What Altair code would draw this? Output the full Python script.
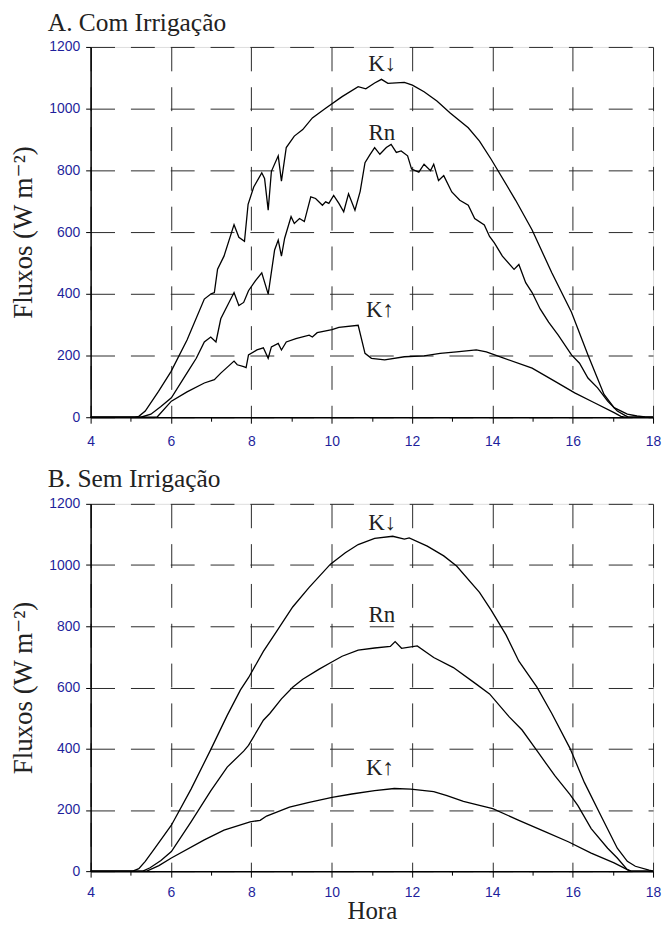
import altair as alt
import pandas as pd

# ---------------- data ----------------
# Panel A: Com Irrigação
A_KD_HOUR = [4, 5.1, 5.2, 5.36, 5.69, 6.0, 6.4, 6.83, 7.0, 7.08, 7.16, 7.32, 7.57, 7.69, 7.83, 7.92, 8.06, 8.26,
             8.33, 8.42, 8.5, 8.67, 8.75, 8.87, 9.07, 9.28, 9.52, 9.85, 10.26, 10.66, 10.85, 11.07, 11.24, 11.4,
             11.81, 12.01, 12.3, 12.62, 12.95, 13.4, 13.68, 13.97, 14.58, 14.99, 15.48, 15.97, 16.38, 16.78,
             17.03, 17.36, 17.6, 17.8, 18]
A_KD_FLUX = [0, 0, 3, 20, 84, 148, 250, 383, 400, 404, 480, 522, 624, 583, 570, 690, 746, 792,
             774, 671, 797, 847, 765, 874, 911, 932, 970, 1001, 1039, 1071, 1064, 1083, 1095, 1082,
             1085, 1076, 1055, 1025, 986, 938, 895, 836, 703, 607, 468, 340, 202, 74,
             31, 10, 4, 1, 0]

A_RN_HOUR = [4, 5.25, 5.5, 5.75, 6.01, 6.42, 6.63, 6.83, 6.99, 7.12, 7.24, 7.57, 7.69, 7.81, 7.93, 8.1, 8.26,
             8.42, 8.58, 8.67, 8.75, 8.83, 8.99, 9.07, 9.2, 9.32, 9.48, 9.6, 9.77, 9.85, 9.93, 10.05, 10.18,
             10.3, 10.42, 10.58, 10.71, 10.83, 10.95, 11.07, 11.2, 11.36, 11.48, 11.61, 11.73, 11.89, 11.99,
             12.17, 12.3, 12.46, 12.54, 12.66, 12.79, 12.99, 13.19, 13.4, 13.56, 13.8, 13.93, 14.05, 14.25,
             14.54, 14.66, 14.83, 14.99, 15.19, 15.4, 15.64, 15.97, 16.17, 16.38, 16.62, 16.87, 17.11, 17.3,
             17.4, 18]
A_RN_FLUX = [0, 0, 10, 35, 63, 148, 191, 244, 260, 244, 319, 404, 362, 372, 410, 442, 468,
             399, 542, 574, 522, 580, 650, 628, 644, 634, 714, 709, 687, 698, 693, 719, 693,
             666, 724, 671, 732, 825, 850, 874, 852, 874, 884, 858, 863, 847, 804,
             794, 820, 799, 820, 767, 783, 730, 703, 687, 644, 623, 586, 565, 522,
             479, 495, 436, 404, 351, 308, 266, 202, 175, 127, 95, 52, 20, 6,
             0, 0]

A_KU_HOUR = [4, 5.65, 6.01, 6.4, 6.83, 7.08, 7.24, 7.57, 7.65, 7.81, 7.87, 7.93, 8.14, 8.3, 8.42, 8.5, 8.67,
             8.75, 8.87, 9.11, 9.44, 9.52, 9.64, 10.01, 10.18, 10.66, 10.83, 10.99, 11.32, 11.81, 12.3, 12.7,
             13.11, 13.6, 13.85, 14.25, 14.99, 15.56, 16.05, 16.54, 17.03, 17.2, 17.3, 18]
A_KU_FLUX = [0, 0, 52, 82, 111, 122, 143, 182, 170, 164, 161, 202, 218, 225, 191, 228, 239,
             218, 244, 255, 266, 260, 274, 284, 291, 298, 207, 191, 186, 196, 199, 207,
             212, 218, 212, 193, 159, 116, 79, 47, 15, 3, 0, 0]

# Panel B: Sem Irrigação
B_KD_HOUR = [4, 5.05, 5.2, 5.36, 5.6, 6.01, 6.5, 6.99, 7.4, 7.73, 7.93, 8.3, 8.63, 9.03, 9.44, 9.97, 10.34,
             10.66, 11.07, 11.52, 11.81, 11.93, 12.38, 12.79, 13.11, 13.68, 13.97, 14.34, 14.66, 15.11, 15.48,
             15.93, 16.29, 16.7, 17.11, 17.36, 17.56, 17.9, 18]
B_KD_FLUX = [0, 0, 8, 32, 75, 150, 268, 397, 509, 592, 632, 718, 783, 863, 927, 1003, 1040,
             1067, 1087, 1094, 1085, 1089, 1062, 1030, 997, 911, 853, 772, 686, 601, 515,
             402, 290, 182, 75, 32, 16, 3, 0]

B_RN_HOUR = [4, 5.3, 5.48, 5.75, 6.01, 6.5, 6.99, 7.4, 7.81, 7.93, 8.3, 8.46, 8.75, 9.03, 9.28, 9.69, 9.97,
             10.26, 10.66, 11.07, 11.46, 11.58, 11.74, 12.13, 12.54, 13.03, 13.6, 13.93, 14.42, 14.74, 15.15,
             15.56, 15.93, 16.13, 16.46, 16.87, 17.11, 17.36, 17.45, 18]
B_RN_FLUX = [0, 0, 11, 35, 64, 161, 262, 340, 392, 411, 493, 515, 563, 601, 627, 660, 681,
             702, 722, 729, 734, 750, 728, 736, 698, 665, 611, 579, 504, 461, 386,
             311, 251, 214, 139, 75, 43, 5, 0, 0]

B_KU_HOUR = [4, 5.4, 5.7, 6.01, 6.83, 7.32, 7.97, 8.22, 8.38, 8.95, 9.44, 10.01, 10.5, 11.07, 11.56, 11.97,
             12.54, 12.87, 13.28, 13.68, 14.01, 14.66, 15.31, 15.89, 16.46, 17.03, 17.36, 17.45, 18]
B_KU_FLUX = [0, 0, 18, 43, 102, 134, 161, 166, 180, 209, 225, 241, 252, 263, 270, 268,
             260, 247, 228, 215, 204, 166, 129, 96, 59, 27, 5, 0, 0]

# curve labels
LABELS = ["K↓", "Rn", "K↑"]
A_LABEL_HOUR = [11.26, 11.25, 11.2]
A_LABEL_FLUX = [1146, 922, 346]
B_LABEL_HOUR = [11.26, 11.25, 11.2]
B_LABEL_FLUX = [1138, 836, 338]

TITLES = ["A. Com Irrigação", "B. Sem Irrigação"]
Y_TITLE = "Fluxos (W m⁻²)"
X_TITLE = "Hora"

# ---------------- styling ----------------
SERIF = "Liberation Serif, Times New Roman, DejaVu Serif, serif"
SANS = "Liberation Sans, Arial, sans-serif"
BLUE = "#1f1f9c"
INK = "#222222"


def lines_df(kd_h, kd_f, rn_h, rn_f, ku_h, ku_f):
    parts = []
    for name, h, f in (("K↓", kd_h, kd_f), ("Rn", rn_h, rn_f), ("K↑", ku_h, ku_f)):
        parts.append(pd.DataFrame({"hour": h, "flux": f, "series": name}))
    return pd.concat(parts, ignore_index=True)


def panel(df, lab_df, title, x_title, height, x_label_pad):
    x_axis = alt.Axis(
        values=list(range(4, 19)),
        labelExpr="datum.value % 2 == 0 ? datum.label : ''",
        tickSize={"condition": {"test": "datum.value % 2 == 0", "value": 6}, "value": 4},
        gridOpacity={"condition": {"test": "datum.value % 2 == 0", "value": 1}, "value": 0},
        grid=True,
        gridDash=[24, 16],
        gridColor="#2a2a2a",
        gridWidth=1,
        labelFont=SANS,
        labelFontSize=14,
        labelColor=BLUE,
        labelPadding=x_label_pad,
        labelFlush=False,
        tickColor="black",
        domainColor="black",
        domainWidth=1.5,
        titleFont=SERIF,
        titleFontSize=25,
        titleFontWeight="normal",
        titleColor=INK,
        titlePadding=0,
    )
    y_axis = alt.Axis(
        values=[0, 200, 400, 600, 800, 1000, 1200],
        format="d",
        grid=True,
        gridDash=[24, 16],
        gridColor="#2a2a2a",
        gridWidth=1,
        tickSize=5,
        tickColor="black",
        domainColor="black",
        domainWidth=1.5,
        labelFont=SANS,
        labelFontSize=14,
        labelColor=BLUE,
        labelPadding=6,
        labelFlush=False,
        titleFont=SERIF,
        titleFontSize=27,
        titleFontWeight="normal",
        titleColor=INK,
        titlePadding=11,
    )
    xs = alt.Scale(domain=[4, 18], nice=False, zero=False)
    ys = alt.Scale(domain=[0, 1200], nice=False)
    if x_title:
        xenc = alt.X("hour:Q", scale=xs, axis=x_axis, title=x_title)
    else:
        xenc = alt.X("hour:Q", scale=xs, axis=x_axis, title=None)
    base_lines = alt.Chart(df).mark_line(color="black", strokeWidth=1.3).encode(
        x=xenc,
        y=alt.Y("flux:Q", scale=ys, axis=y_axis, title=Y_TITLE),
        detail="series:N",
    )
    text = alt.Chart(lab_df).mark_text(font=SERIF, fontSize=23, color=INK, baseline="middle").encode(
        x=alt.X("hour:Q", scale=xs),
        y=alt.Y("flux:Q", scale=ys),
        text="label:N",
    )
    return alt.layer(base_lines, text).properties(
        width=565,
        height=height,
        title=alt.TitleParams(
            text=title,
            anchor="start",
            frame="group",
            dx=-43,
            font=SERIF,
            fontSize=25.5,
            fontWeight="normal",
            color=INK,
            offset=4,
        ),
    )


dfA = lines_df(A_KD_HOUR, A_KD_FLUX, A_RN_HOUR, A_RN_FLUX, A_KU_HOUR, A_KU_FLUX)
dfB = lines_df(B_KD_HOUR, B_KD_FLUX, B_RN_HOUR, B_RN_FLUX, B_KU_HOUR, B_KU_FLUX)
labA = pd.DataFrame({"hour": A_LABEL_HOUR, "flux": A_LABEL_FLUX, "label": LABELS})
labB = pd.DataFrame({"hour": B_LABEL_HOUR, "flux": B_LABEL_FLUX, "label": LABELS})

chart = alt.vconcat(
    panel(dfA, labA, TITLES[0], None, 372, 11),
    panel(dfB, labB, TITLES[1], X_TITLE, 369, 8),
    spacing=18,
).properties(
    padding={"left": 1, "top": 0, "right": 0, "bottom": 0},
).configure_view(stroke="black", strokeWidth=1.5).configure(background="white")

chart.save("out.html", embed_options={"renderer": "svg", "actions": False})
